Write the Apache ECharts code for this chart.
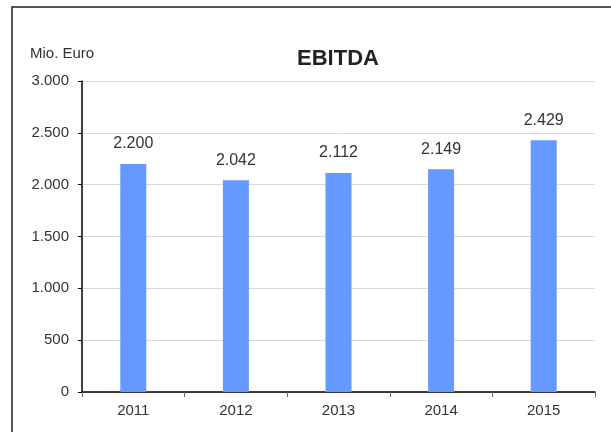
<!DOCTYPE html>
<html lang="de">
<head>
    <meta charset="UTF-8">
    <title>EBITDA</title>
    <style>
        body { margin: 0; background: #fff; }
    </style>
</head>
<body>
<div id="main" style="width: 611px;height:432px;"></div>
<script src="https://cdn.jsdelivr.net/npm/echarts@6/dist/echarts.min.js"></script>
<script type="text/javascript">
    // Daten
    var years = ['2011', '2012', '2013', '2014', '2015'];
    var ebitda = [2200, 2042, 2112, 2149, 2429];

    // Tausenderpunkt wie im Original
    function fmt(v) {
        return String(v).replace(/\B(?=(\d{3})+(?!\d))/g, '.');
    }

    var myChart = echarts.init(document.getElementById('main'));
    var option = {
        animation: false,
        textStyle: { fontFamily: 'Liberation Sans, Arial, sans-serif' },
        graphic: [{
            type: 'rect',
            shape: { x: 12, y: 7, width: 800, height: 600 },
            style: { fill: 'none', stroke: '#222', lineWidth: 1.5 }
        }, {
            type: 'text',
            left: 30, top: 46,
            style: { text: 'Mio. Euro', fontSize: 15, fill: '#333', fontFamily: 'Liberation Sans, Arial, sans-serif' }
        }],
        title: {
            text: 'EBITDA',
            left: 333,
            top: 43,
            textAlign: 'center',
            textStyle: { fontSize: 22, fontWeight: 'bold', color: '#222' }
        },
        grid: { left: 82, right: 16, top: 81, bottom: 40 },
        xAxis: {
            type: 'category',
            data: years,
            axisLine: { lineStyle: { color: '#000', width: 1.5 } },
            axisTick: { show: true, length: 5, lineStyle: { color: '#666' } },
            axisLabel: { color: '#333', fontSize: 15, margin: 11 }
        },
        yAxis: {
            type: 'value',
            min: 0,
            max: 3000,
            interval: 500,
            axisLine: { show: true, lineStyle: { color: '#000', width: 1.5 } },
            axisTick: { show: true, length: 4, lineStyle: { color: '#000' } },
            axisLabel: { color: '#333', fontSize: 15, margin: 13, formatter: fmt },
            splitLine: { lineStyle: { color: '#d9d9d9' } }
        },
        series: [{
            name: 'EBITDA',
            type: 'bar',
            data: ebitda,
            barWidth: 26,
            itemStyle: { color: '#6699ff' },
            label: {
                show: true,
                position: 'top',
                distance: 12,
                color: '#333',
                fontSize: 16,
                formatter: function (p) { return fmt(p.value); }
            }
        }]
    };
    myChart.setOption(option);
</script>
</body>
</html>
